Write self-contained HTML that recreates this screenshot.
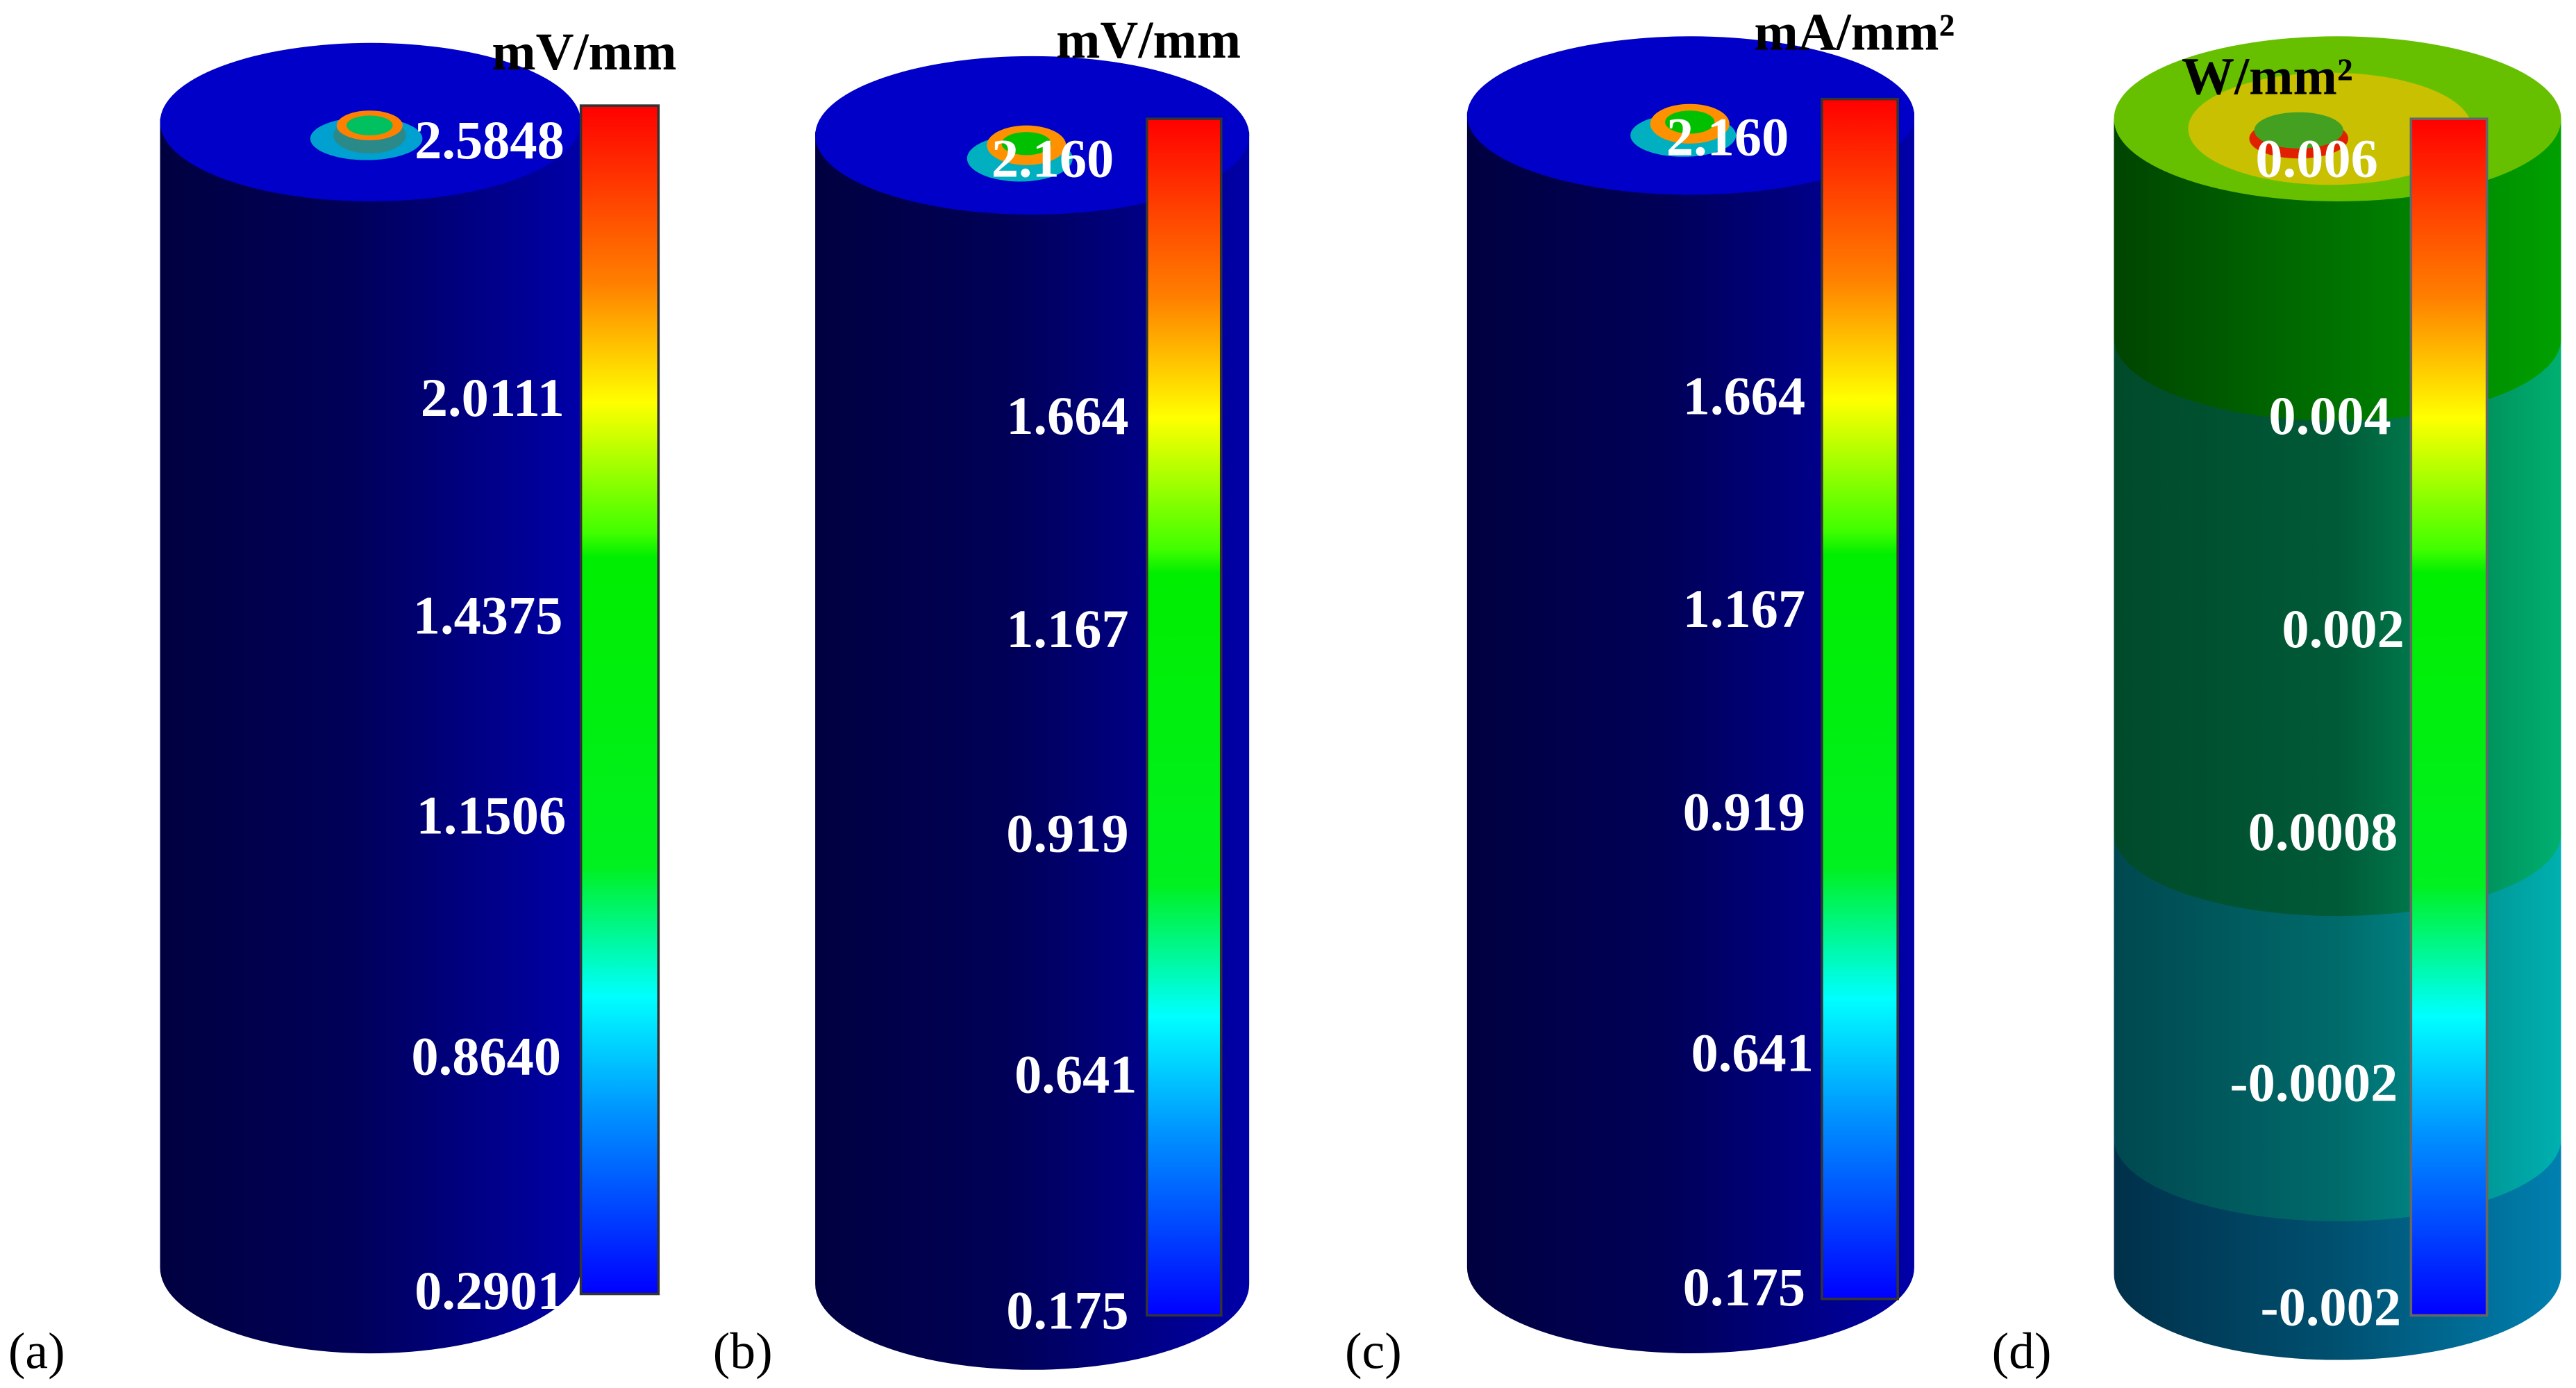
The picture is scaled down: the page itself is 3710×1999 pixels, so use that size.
<!DOCTYPE html>
<html><head><meta charset="utf-8">
<style>
html,body{margin:0;padding:0;background:#fff;}
svg{display:block;}
.lab{font-family:"Liberation Serif",serif;font-weight:bold;fill:#fff;font-size:33px;}
.ttl{font-family:"Liberation Serif",serif;font-weight:bold;fill:#000;font-size:32px;}
.pl{font-family:"Liberation Serif",serif;fill:#000;font-size:31px;}
</style></head>
<body>
<svg id="fig" width="3710" height="1999" viewBox="0 0 1561 841" preserveAspectRatio="none" xmlns="http://www.w3.org/2000/svg">
<defs>
 <linearGradient id="cbar" x1="0" y1="0" x2="0" y2="1">
  <stop offset="0" stop-color="#ff0000"/>
  <stop offset="0.15" stop-color="#ff8000"/>
  <stop offset="0.25" stop-color="#ffff00"/>
  <stop offset="0.36" stop-color="#40ff00"/>
  <stop offset="0.38" stop-color="#00ee00"/>
  <stop offset="0.64" stop-color="#00f020"/>
  <stop offset="0.75" stop-color="#00ffff"/>
  <stop offset="0.85" stop-color="#0090ff"/>
  <stop offset="1" stop-color="#0000ff"/>
 </linearGradient>
 <linearGradient id="bodyBlue" x1="0" y1="0" x2="1" y2="0">
  <stop offset="0" stop-color="#000040"/>
  <stop offset="0.45" stop-color="#000058"/>
  <stop offset="1" stop-color="#0000a8"/>
 </linearGradient>
 <linearGradient id="dB1" x1="0" y1="0" x2="1" y2="0"><stop offset="0" stop-color="#004400"/><stop offset="1" stop-color="#00a000"/></linearGradient>
 <linearGradient id="dB2" x1="0" y1="0" x2="1" y2="0"><stop offset="0" stop-color="#004a2a"/><stop offset="0.5" stop-color="#005a38"/><stop offset="1" stop-color="#00b070"/></linearGradient>
 <linearGradient id="dB3" x1="0" y1="0" x2="1" y2="0"><stop offset="0" stop-color="#004850"/><stop offset="0.5" stop-color="#006a6a"/><stop offset="1" stop-color="#00b0b0"/></linearGradient>
 <linearGradient id="dB4" x1="0" y1="0" x2="1" y2="0"><stop offset="0" stop-color="#00304a"/><stop offset="0.5" stop-color="#005070"/><stop offset="1" stop-color="#0080b0"/></linearGradient>
 <clipPath id="clipD"><path d="M1281,72 L1281,772 A135.5,52 0 0 0 1552,772 L1552,72 Z"/></clipPath>
</defs>

<!-- Panel A -->
<g>
 <path d="M97,72 L97,768 A127.5,52 0 0 0 352,768 L352,72 Z" fill="url(#bodyBlue)"/>
 <ellipse cx="224.5" cy="74" rx="127.5" ry="48" fill="#0000c8"/>
 <ellipse cx="222" cy="84" rx="34" ry="13" fill="#00a0d0"/>
 <ellipse cx="224" cy="82" rx="22" ry="11" fill="#2a8a8a"/>
 <ellipse cx="224" cy="76" rx="20" ry="9" fill="#ff8000"/>
 <ellipse cx="224" cy="76" rx="14" ry="6" fill="#00c060"/>
 <rect x="352" y="64" width="47" height="720" fill="url(#cbar)" stroke="#333" stroke-width="1.5"/>
 <text class="ttl" x="298" y="42">mV/mm</text>
 <g text-anchor="end">
  <text class="lab" x="342" y="96">2.5848</text>
  <text class="lab" x="342" y="252">2.0111</text>
  <text class="lab" x="341" y="384">1.4375</text>
  <text class="lab" x="343" y="505">1.1506</text>
  <text class="lab" x="340" y="651">0.8640</text>
  <text class="lab" x="342" y="793">0.2901</text>
 </g>
 <text class="pl" x="5" y="829">(a)</text>
</g>

<!-- Panel B -->
<g>
 <path d="M494,80 L494,778 A131.5,52 0 0 0 757,778 L757,80 Z" fill="url(#bodyBlue)"/>
 <ellipse cx="625.5" cy="82" rx="131.5" ry="48" fill="#0000c8"/>
 <ellipse cx="618" cy="96" rx="32" ry="14" fill="#00b0c0"/>
 <ellipse cx="622" cy="88" rx="24" ry="12" fill="#ff9000"/>
 <ellipse cx="622" cy="87" rx="15" ry="7" fill="#00c000"/>
 <rect x="695" y="72" width="45" height="725" fill="url(#cbar)" stroke="#333" stroke-width="1.5"/>
 <text class="ttl" x="640" y="35">mV/mm</text>
 <g text-anchor="end">
  <text class="lab" x="675" y="107">2.160</text>
  <text class="lab" x="684" y="263">1.664</text>
  <text class="lab" x="684" y="392">1.167</text>
  <text class="lab" x="684" y="516">0.919</text>
  <text class="lab" x="689" y="662">0.641</text>
  <text class="lab" x="684" y="805">0.175</text>
 </g>
 <text class="pl" x="432" y="829">(b)</text>
</g>

<!-- Panel C -->
<g>
 <path d="M889,68 L889,768 A135.5,52 0 0 0 1160,768 L1160,68 Z" fill="url(#bodyBlue)"/>
 <ellipse cx="1024.5" cy="70" rx="135.5" ry="48" fill="#0000c8"/>
 <ellipse cx="1020" cy="82" rx="32" ry="13" fill="#00b0c0"/>
 <ellipse cx="1024" cy="75" rx="24" ry="12" fill="#ff9000"/>
 <ellipse cx="1024" cy="74" rx="15" ry="7" fill="#00c000"/>
 <rect x="1104" y="60" width="46" height="727" fill="url(#cbar)" stroke="#333" stroke-width="1.5"/>
 <text class="ttl" x="1063" y="30">mA/mm²</text>
 <g text-anchor="end">
  <text class="lab" x="1084" y="94">2.160</text>
  <text class="lab" x="1094" y="251">1.664</text>
  <text class="lab" x="1094" y="380">1.167</text>
  <text class="lab" x="1094" y="503">0.919</text>
  <text class="lab" x="1099" y="649">0.641</text>
  <text class="lab" x="1094" y="791">0.175</text>
 </g>
 <text class="pl" x="815" y="829">(c)</text>
</g>

<!-- Panel D -->
<g>
 <g clip-path="url(#clipD)">
  <rect x="1281" y="70" width="271" height="760" fill="url(#dB4)"/>
  <path d="M1281,70 L1281,690 A135.5,50 0 0 0 1552,690 L1552,70 Z" fill="url(#dB3)"/>
  <path d="M1281,70 L1281,505 A135.5,50 0 0 0 1552,505 L1552,70 Z" fill="url(#dB2)"/>
  <path d="M1281,70 L1281,205 A135.5,50 0 0 0 1552,205 L1552,70 Z" fill="url(#dB1)"/>
 </g>
 <ellipse cx="1416.5" cy="72" rx="135.5" ry="50" fill="#66c000"/>
 <ellipse cx="1412" cy="78" rx="86" ry="34" fill="#c8c000"/>
 <ellipse cx="1393" cy="84" rx="30" ry="12" fill="#e02000"/>
 <ellipse cx="1393" cy="79" rx="27" ry="11" fill="#44a020"/>
 <rect x="1461" y="72" width="46" height="725" fill="url(#cbar)" stroke="#666" stroke-width="1.5"/>
 <text class="ttl" x="1322" y="57">W/mm²</text>
 <g text-anchor="end">
  <text class="lab" x="1441" y="107">0.006</text>
  <text class="lab" x="1449" y="263">0.004</text>
  <text class="lab" x="1457" y="392">0.002</text>
  <text class="lab" x="1453" y="515">0.0008</text>
  <text class="lab" x="1453" y="667">-0.0002</text>
  <text class="lab" x="1455" y="803">-0.002</text>
 </g>
 <text class="pl" x="1207" y="829">(d)</text>
</g>
</svg>
</body></html>
